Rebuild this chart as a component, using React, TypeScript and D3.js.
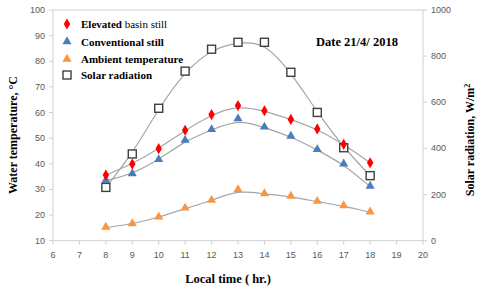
import * as d3 from "d3";

const hours = [8, 9, 10, 11, 12, 13, 14, 15, 16, 17, 18];
const elevated = [35.6, 39.9, 45.9, 53.1, 59.2, 62.7, 60.7, 57.3, 53.6, 47.6, 40.4];
const conventional = [33.4, 36.0, 41.5, 49.0, 53.2, 57.4, 54.2, 50.6, 45.4, 39.8, 31.1];
const ambient = [15.1, 16.5, 19.1, 22.6, 25.6, 29.8, 28.2, 27.2, 25.2, 23.5, 21.1];
const radiation = [231, 376, 574, 735, 830, 860, 860, 730, 556, 403, 282];

const xTicks = [6, 7, 8, 9, 10, 11, 12, 13, 14, 15, 16, 17, 18, 19, 20];
const yTicks = [10, 20, 30, 40, 50, 60, 70, 80, 90, 100];
const y2Ticks = [0, 200, 400, 600, 800, 1000];

const serif = "'Liberation Serif', 'Times New Roman', serif";
const sans = "'Liberation Sans', Arial, sans-serif";
const axisGray = "#d0d0d0";
const tickText = "#595959";
const trendGray = "#a6a6a6";

const x = d3.scaleLinear().domain([6, 20]).range([53, 423]);
const y = d3.scaleLinear().domain([10, 100]).range([240.7, 10]);
const y2 = d3.scaleLinear().domain([0, 1000]).range([240.7, 10]);

const pts = (vals: number[], sc: d3.ScaleLinear<number, number>) =>
  hours.map((h, i) => [x(h), sc(vals[i])] as [number, number]);

const trend = d3.line().curve(d3.curveBasis);

const diamond = d3.symbol().type(d3.symbolDiamond).size(36)();
const triangle = d3.symbol().type(d3.symbolTriangle).size(36)();

const Diamond = ({ cx, cy }: { cx: number; cy: number }) => (
  <path d={diamond!} transform={`translate(${cx},${cy})`} fill="#ff0000" />
);
const Tri = ({ cx, cy, c }: { cx: number; cy: number; c: string }) => (
  <path d={triangle!} transform={`translate(${cx},${cy - 0.5})`} fill={c} />
);
const Square = ({ cx, cy }: { cx: number; cy: number }) => (
  <rect x={cx - 4} y={cy - 4} width={8} height={8} fill="#fff" stroke="#404040" strokeWidth={1.4} />
);

const blue = "#4a7ebb";
const orange = "#f79646";

export default function App() {
  return (
    <svg width={480} height={290} style={{ position: "absolute", left: 0, top: 0, background: "#fff" }}>
      {/* frame */}
      <rect x={53} y={10} width={370} height={230.7} fill="none" stroke={axisGray} strokeWidth={1} />
      {yTicks.map((t) => (
        <g key={"y" + t}>
          <line x1={49} x2={53} y1={y(t)} y2={y(t)} stroke={axisGray} />
          <text x={45} y={y(t) + 3} fontSize={9} fontFamily={sans} fill={tickText} textAnchor="end">
            {t}
          </text>
        </g>
      ))}
      {y2Ticks.map((t) => (
        <g key={"r" + t}>
          <line x1={423} x2={427} y1={y2(t)} y2={y2(t)} stroke={axisGray} />
          <text x={431} y={y2(t) + 3} fontSize={9} fontFamily={sans} fill={tickText}>
            {t}
          </text>
        </g>
      ))}
      {xTicks.map((t) => (
        <g key={"x" + t}>
          <line x1={x(t)} x2={x(t)} y1={240.7} y2={244.7} stroke={axisGray} />
          <text x={x(t)} y={258} fontSize={9} fontFamily={sans} fill={tickText} textAnchor="middle">
            {t}
          </text>
        </g>
      ))}

      {/* trendlines */}
      {[
        pts(radiation, y2),
        pts(elevated, y),
        pts(conventional, y),
        pts(ambient, y),
      ].map((p, i) => (
        <path key={"t" + i} d={trend(p)!} fill="none" stroke={trendGray} strokeWidth={1.2} />
      ))}

      {/* markers */}
      {pts(ambient, y).map(([cx, cy], i) => (
        <Tri key={"a" + i} cx={cx} cy={cy} c={orange} />
      ))}
      {pts(conventional, y).map(([cx, cy], i) => (
        <Tri key={"c" + i} cx={cx} cy={cy} c={blue} />
      ))}
      {pts(radiation, y2).map(([cx, cy], i) => (
        <Square key={"s" + i} cx={cx} cy={cy} />
      ))}
      {pts(elevated, y).map(([cx, cy], i) => (
        <Diamond key={"e" + i} cx={cx} cy={cy} />
      ))}

      {/* legend */}
      <Diamond cx={67} cy={24} />
      <Tri cx={67} cy={42} c={blue} />
      <Tri cx={67} cy={59.5} c={orange} />
      <Square cx={67} cy={75} />
      <g fontFamily={serif} fontSize={11} fill="#000">
        <text x={81} y={28}>
          <tspan fontWeight="bold">Elevated</tspan> basin still
        </text>
        <text x={81} y={45.5} fontWeight="bold">Conventional still</text>
        <text x={81} y={63} fontWeight="bold">Ambient temperature</text>
        <text x={81} y={79} fontWeight="bold">Solar radiation</text>
      </g>
      <text x={316} y={46} fontFamily={serif} fontSize={12.5} fontWeight="bold">
        Date 21/4/ 2018
      </text>

      {/* axis titles */}
      <text
        transform="translate(17,135) rotate(-90)"
        textAnchor="middle"
        fontFamily={serif}
        fontWeight="bold"
        fontSize={12}
      >
        Water temperature, °C
      </text>
      <text
        transform="translate(474,140) rotate(-90)"
        textAnchor="middle"
        fontFamily={serif}
        fontWeight="bold"
        fontSize={12}
      >
        Solar radiation, W/m<tspan baselineShift="super" fontSize={8}>2</tspan>
      </text>
      <text x={228} y={283} textAnchor="middle" fontFamily={serif} fontWeight="bold" fontSize={12.5}>
        Local time ( hr.)
      </text>
    </svg>
  );
}
